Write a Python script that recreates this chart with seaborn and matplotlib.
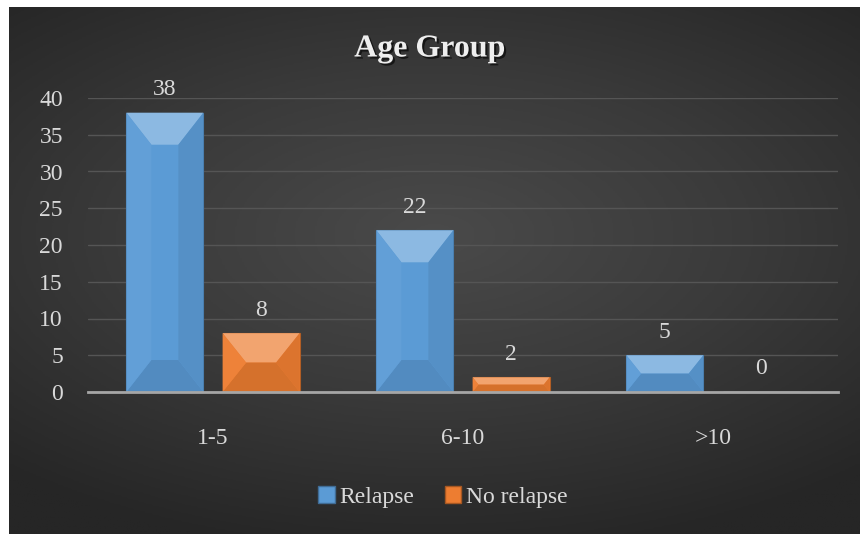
import numpy as np
import pandas as pd
import seaborn as sns
import matplotlib.pyplot as plt
import matplotlib.patheffects as pe
from matplotlib.patches import Polygon, Patch
from matplotlib.colors import to_rgb

# data
groups = ["1-5", "6-10", ">10"]
relapse = [38, 22, 5]
no_relapse = [8, 2, 0]
series = ["Relapse", "No relapse"]

df = pd.DataFrame({
    "group": groups * 2,
    "status": [series[0]] * 3 + [series[1]] * 3,
    "count": relapse + no_relapse,
})

colors = {"Relapse": "#5b9bd5", "No relapse": "#ed7d31"}
txt = "#d9d9d9"

sns.set_style("dark")
plt.rcParams['font.family'] = 'serif'
plt.rcParams['font.serif'] = ['Liberation Serif', 'Times New Roman', 'DejaVu Serif']

fig = plt.figure(figsize=(8.6, 5.34), dpi=100)
fig.patch.set_facecolor("white")

# dark radial background (white strip left/top like the source image)
bg = fig.add_axes([9 / 860, 0, 851 / 860, 527 / 534], zorder=-1)
yy, xx = np.mgrid[-1:1:300j, -1:1:500j]
r = np.sqrt((xx * 0.9) ** 2 + (yy * 1.1 + 0.15) ** 2)
bg.imshow(r, cmap=sns.blend_palette(["#4a4a4a", "#3a3a3a", "#262626"], as_cmap=True),
          aspect="auto", vmin=0, vmax=1.35, extent=[0, 1, 0, 1])
bg.set_axis_off()

ax = fig.add_axes([88 / 860, 1 - 392 / 534, 750 / 860, 294 / 534])
sns.barplot(data=df, x="group", y="count", hue="status", palette=colors,
            width=0.77, gap=0.2, saturation=1, ax=ax, legend=False, zorder=3)
ax.set_facecolor("none")
ax.set_ylim(0, 40)
ax.set_xlim(-0.5, 2.5)
ax.set_yticks(range(0, 41, 5))
ax.yaxis.grid(True, color="#555555", linewidth=1)
ax.xaxis.grid(False)
for s in ["top", "right", "left"]:
    ax.spines[s].set_visible(False)
ax.spines["bottom"].set_color("#a6a6a6")
ax.spines["bottom"].set_linewidth(2)
ax.spines["bottom"].set_zorder(5)
ax.tick_params(axis="both", length=0, colors=txt, labelsize=17)
ax.tick_params(axis="y", pad=18)
ax.tick_params(axis="x", pad=26)
ax.set_xlabel("")
ax.set_ylabel("")


def shade(c, f):
    c = np.array(to_rgb(c))
    if f > 0:
        return tuple(c + (1 - c) * f)
    return tuple(c * (1 + f))


# bevel facets computed from each bar
px_x = 750 / 3.0
px_y = 294 / 40.0
for bar in ax.patches:
    h = bar.get_height()
    if h <= 0:
        continue
    x0, w = bar.get_x(), bar.get_width()
    x1, y0, y1 = x0 + w, 0, h
    dpy = min(32, h * px_y / 2)
    dpx = min(25, 0.8 * dpy)
    dx, dy = dpx / px_x, dpy / px_y
    base = bar.get_facecolor()
    bar.set_edgecolor(shade(base, -0.25))
    bar.set_linewidth(0.8)
    faces = [
        ([(x0, y1), (x1, y1), (x1 - dx, y1 - dy), (x0 + dx, y1 - dy)], 0.3),
        ([(x0, y0), (x1, y0), (x1 - dx, y0 + dy), (x0 + dx, y0 + dy)], -0.1),
        ([(x0, y0), (x0, y1), (x0 + dx, y1 - dy), (x0 + dx, y0 + dy)], 0.04),
        ([(x1, y0), (x1, y1), (x1 - dx, y1 - dy), (x1 - dx, y0 + dy)], -0.07),
    ]
    for pts, f in faces:
        ax.add_patch(Polygon(pts, closed=True, facecolor=shade(base, f),
                             edgecolor="none", zorder=4))

# value labels
for i, g in enumerate(groups):
    for j, (name, vals) in enumerate(zip(series, [relapse, no_relapse])):
        xpos = i + (j - 0.5) * 0.385
        ax.annotate(str(vals[i]), (xpos, vals[i]), xytext=(0, 9),
                    textcoords="offset points", ha="center", va="bottom",
                    color=txt, fontsize=17, zorder=6)

fig.text(0.5, 1 - 49 / 534, "Age Group", ha="center", va="center",
         fontsize=23, fontweight="bold", color="#eeeeee",
         path_effects=[pe.withSimplePatchShadow(offset=(1.5, -1.5),
                                                shadow_rgbFace="black", alpha=0.6)])

handles = [Patch(facecolor=colors[s], edgecolor=shade(colors[s], -0.3)) for s in series]
leg = fig.legend(handles, series, loc="center", bbox_to_anchor=(0.515, 1 - 497 / 534),
                 ncol=2, frameon=False, fontsize=17, handlelength=0.7,
                 handleheight=0.7, handletextpad=0.2, columnspacing=1.3)
for t in leg.get_texts():
    t.set_color(txt)

fig.savefig("out.png", dpi=100)
